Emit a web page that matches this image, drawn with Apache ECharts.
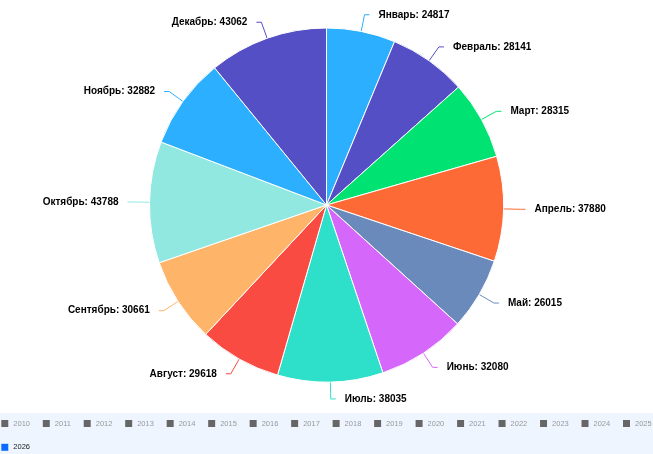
<!DOCTYPE html>
<html><head><meta charset="utf-8">
<script src="https://cdn.jsdelivr.net/npm/echarts@6/dist/echarts.min.js"></script>
<style>html,body{margin:0;padding:0;background:#fff}#c{width:653px;height:454px}</style>
</head><body><div id="c"></div>
<script>
const months = ['Январь','Февраль','Март','Апрель','Май','Июнь','Июль','Август','Сентябрь','Октябрь','Ноябрь','Декабрь'];
const values2026 = [24817,28141,28315,37880,26015,32080,38035,29618,30661,43788,32882,43062];
const years = ['2010','2011','2012','2013','2014','2015','2016','2017','2018','2019','2020','2021','2022','2023','2024','2025','2026'];
const selectedYear = '2026';
const sliceColors = ['#2caffe','#544fc5','#00e272','#fe6a35','#6b8abc','#d568fb','#2ee0ca','#fa4b42','#feb56a','#91e8e1','#2caffe','#544fc5'];

const chart = echarts.init(document.getElementById('c'), null, {renderer:'canvas'});
const selectedMap = {};
years.forEach(y => { selectedMap[y] = (y === selectedYear); });

const series = years.map(y => ({
  type: 'pie',
  name: y,
  center: ['50%', 205],
  radius: 177,
  startAngle: 90,
  clockwise: true,
  avoidLabelOverlap: true,
  itemStyle: { borderColor: '#ffffff', borderWidth: 1 },
  label: {
    show: true,
    position: 'outside',
    formatter: '{b}: {c}',
    fontFamily: 'Liberation Sans, Arial, sans-serif',
    fontSize: 10,
    fontWeight: 'bold',
    color: '#000000',
    distanceToLabelLine: 9
  },
  labelLine: { show: true, length: 17, length2: 5, lineStyle: { width: 1 } },
  emphasis: { disabled: true },
  data: y === selectedYear ? months.map((m, i) => ({ name: m, value: values2026[i] })) : []
}));

chart.setOption({
  animation: false,
  color: sliceColors,
  legend: {
    type: 'plain',
    left: 'center',
    top: 413,
    width: 670,
    padding: [5, 6],
    itemGap: 12.8,
    itemWidth: 7,
    itemHeight: 7,
    icon: 'rect',
    backgroundColor: '#eef5ff',
    inactiveColor: '#666666',
    inactiveBorderColor: '#5a5a5a',
    inactiveBorderWidth: 0.5,
    itemStyle: { borderWidth: 0 },
    selected: selectedMap,
    data: years.map(y => y === selectedYear ? { name: y, itemStyle: { color: '#0b6bff', borderWidth: 0 } } : { name: y }),
    formatter: function (name) { return (name === selectedYear ? '{s|' : '{u|') + name + '}'; },
    textStyle: {
      fontFamily: 'Liberation Sans, Arial, sans-serif',
      fontSize: 7.5,
      lineHeight: 11,
      color: '#222222',
      rich: {
        u: { color: '#999999', fontSize: 7.5, lineHeight: 11, fontFamily: 'Liberation Sans, Arial, sans-serif' },
        s: { color: '#222222', fontSize: 7.5, lineHeight: 11, fontFamily: 'Liberation Sans, Arial, sans-serif' }
      }
    }
  },
  series: series
});
</script>
</body></html>
